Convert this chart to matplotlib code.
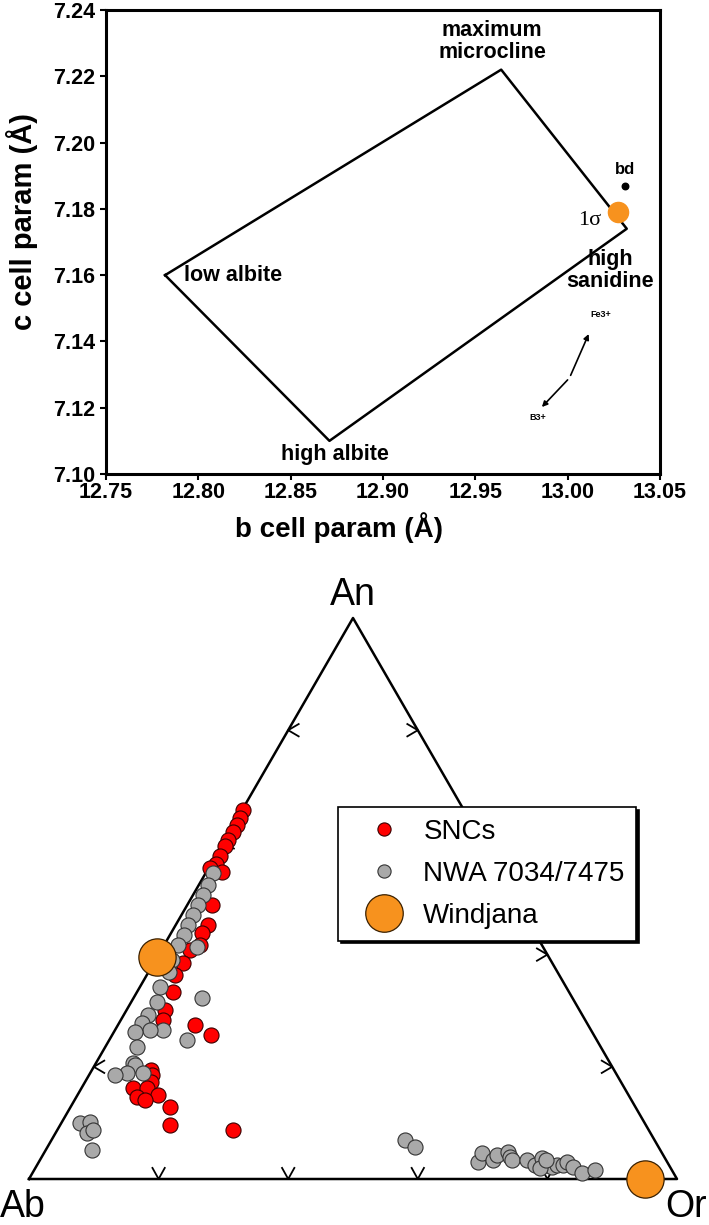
import numpy as np
import matplotlib
matplotlib.use("Agg")
import matplotlib.pyplot as plt
from matplotlib.lines import Line2D

plt.rcParams['font.family'] = ['Liberation Sans', 'DejaVu Sans']

# ---- top panel data: feldspar b-c cell parameter quadrilateral ----
quad_names = ["low albite", "high albite", "high sanidine", "maximum microcline"]
quad_b = [12.782, 12.871, 13.032, 12.964]
quad_c = [7.160, 7.110, 7.174, 7.222]

windjana_b = 13.027
windjana_c = 7.179
bd_b = 13.031
bd_c = 7.187

arrow_pivot = (13.001, 7.129)
arrow_fe = (13.012, 7.143)
arrow_b = (12.985, 7.1196)

x_ticks = [12.75, 12.80, 12.85, 12.90, 12.95, 13.00, 13.05]
y_ticks = [7.10, 7.12, 7.14, 7.16, 7.18, 7.20, 7.22, 7.24]

# ---- bottom panel data: An-Ab-Or ternary (percent) ----
snc_an = [65.8, 64.3, 63.1, 61.9, 60.4, 59.4, 57.6, 56.1, 55.4, 54.7, 48.8, 45.3,
          43.9, 41.7, 40.8, 38.5, 36.4, 33.3, 30.1, 28.3, 27.5, 25.7, 19.4, 18.5,
          17.3, 16.2, 16.2, 15.0, 14.6, 14.1, 12.8, 9.6, 8.7]
snc_or = [0.1, 0.4, 0.5, 0.6, 0.5, 0.5, 0.7, 0.8, 0.3, 2.4, 3.8, 4.9,
          4.8, 5.5, 4.4, 4.5, 4.3, 5.5, 5.9, 6.5, 11.9, 15.3, 9.1, 9.7,
          10.1, 7.9, 10.1, 12.4, 9.4, 10.9, 15.4, 17.0, 27.1]

nwa_an = [54.5, 52.4, 50.6, 48.8, 47.1, 45.3, 43.5, 41.7, 41.4, 39.0, 36.9, 34.2,
          32.3, 31.6, 29.2, 27.8, 26.6, 26.6, 26.2, 24.8, 23.5, 20.7, 20.3, 18.9,
          18.9, 18.5,
          10.0, 10.2, 8.2, 8.7, 5.2,
          7.0, 5.7,
          3.0, 4.6, 3.4, 4.3, 4.8, 3.9, 3.4, 3.4, 2.5, 3.7, 2.5, 2.1, 2.5, 2.5,
          3.0, 2.1, 1.1, 1.6, 2.0, 3.4]
nwa_or = [1.1, 1.4, 1.6, 1.7, 1.8, 1.9, 2.1, 2.1, 5.2, 2.6, 3.1, 3.1,
          10.6, 4.0, 3.8, 3.5, 7.4, 5.4, 3.3, 12.0, 4.9, 5.7, 6.2, 5.7,
          8.2, 4.0,
          2.9, 4.3, 4.9, 5.5, 7.1,
          54.5, 56.7,
          67.8, 67.6, 69.9, 70.1, 71.5, 72.3, 72.8, 75.2, 76.9, 77.3, 78.9, 79.7, 80.3, 81.2,
          81.5, 82.9, 84.8, 86.5, 77.9, 78.1]

wind_an = [39.6, 0.0]
wind_or = [0.0, 95.0]

tern_ticks = [20, 40, 60, 80]

H = np.sqrt(3) / 2


def tern_xy(an, orr):
    # An at apex, Ab bottom-left, Or bottom-right
    an = np.asarray(an, float) / 100.0
    orr = np.asarray(orr, float) / 100.0
    return orr + an / 2.0, an * H


W, HP = 709, 1225
fig = plt.figure(figsize=(W / 100, HP / 100), dpi=100)

# ================= top panel =================
ax = fig.add_axes([106 / W, 1 - 474 / HP, 554 / W, 464 / HP])
ax.plot(quad_b + quad_b[:1], quad_c + quad_c[:1], color='black', lw=1.8, zorder=2)
ax.scatter([bd_b], [bd_c], s=22, color='black', zorder=3)
ax.scatter([windjana_b], [windjana_c], s=210, color='#f7921e', zorder=4)

ax.annotate('', xy=arrow_fe, xytext=arrow_pivot,
            arrowprops=dict(arrowstyle='-|>', color='black', lw=1.2, mutation_scale=8))
ax.annotate('', xy=arrow_b, xytext=arrow_pivot,
            arrowprops=dict(arrowstyle='-|>', color='black', lw=1.2, mutation_scale=8))
ax.text(arrow_fe[0] + 0.006, arrow_fe[1] + 0.005, 'Fe3+', fontsize=6.5, fontweight='bold',
        ha='center', va='center')
ax.text(arrow_b[0] - 0.001, arrow_b[1] - 0.0025, 'B3+', fontsize=6.5, fontweight='bold',
        ha='center', va='center')

lab_kw = dict(fontsize=15.5, fontweight='bold', va='center')
ax.text(12.792, 7.160, 'low albite', ha='left', **lab_kw)
ax.text(12.874, 7.106, 'high albite', ha='center', **lab_kw)
ax.text(13.023, 7.1615, 'high\nsanidine', ha='center', linespacing=1.05, **lab_kw)
ax.text(12.959, 7.2305, 'maximum\nmicrocline', ha='center', linespacing=1.05, **lab_kw)
ax.text(13.031, 7.192, 'bd', ha='center', fontsize=12, fontweight='bold', va='center')
ax.text(13.012, 7.1765, '1\u03c3', ha='center', va='center', fontsize=16,
        family=['Liberation Serif', 'DejaVu Serif'])

ax.set_xlim(12.75, 13.05)
ax.set_ylim(7.10, 7.24)
ax.set_xticks(x_ticks)
ax.set_yticks(y_ticks)
ax.set_xticklabels([f'{v:.2f}' for v in x_ticks], fontsize=15.5, fontweight='bold')
ax.set_yticklabels([f'{v:.2f}' for v in y_ticks], fontsize=15.5, fontweight='bold')
ax.tick_params(direction='out', length=4, width=1.5, pad=4)
ax.tick_params(axis='x', pad=2)
for sp in ax.spines.values():
    sp.set_linewidth(2.2)
ax.set_xlabel('b cell param (\u00c5)', fontsize=20, fontweight='bold', va='center')
ax.set_ylabel('c cell param (\u00c5)', fontsize=21, fontweight='bold', va='center')
ax.xaxis.set_label_coords(0.42, -0.115)
ax.yaxis.set_label_coords(-0.152, 0.545)

# ================= bottom panel: ternary =================
tx = fig.add_axes([29 / W, 1 - 1179 / HP, 648 / W, 561 / HP])
tx.set_xlim(0, 1)
tx.set_ylim(0, H)
tx.axis('off')

tx.plot([0, 1, 0.5, 0], [0, 0, H, 0], color='black', lw=1.8, clip_on=False, zorder=1)

# chevron ticks on each side
d = 0.0095
for t in tern_ticks:
    f = t / 100.0
    # base
    tx.plot([f - d, f, f + d], [1.8 * d, 0, 1.8 * d], color='black', lw=1.3, zorder=1)
    # left side (Ab -> An)
    lx, ly = f / 2, f * H
    tx.plot([lx + 1.7 * d, lx, lx + 1.7 * d], [ly + d, ly, ly - d], color='black', lw=1.3, zorder=1)
    # right side (Or -> An)
    rx, ry = 1 - f / 2, f * H
    tx.plot([rx - 1.7 * d, rx, rx - 1.7 * d], [ry + d, ry, ry - d], color='black', lw=1.3, zorder=1)

sx, sy = tern_xy(snc_an, snc_or)
tx.scatter(sx, sy, s=118, color='#ff0000', edgecolors='#3a0000', linewidths=0.8,
           zorder=3, clip_on=False)
nx, ny = tern_xy(nwa_an, nwa_or)
tx.scatter(nx, ny, s=118, color='#a9a9a9', edgecolors='#333333', linewidths=0.8,
           zorder=4, clip_on=False)
wx, wy = tern_xy(wind_an, wind_or)
tx.scatter(wx, wy, s=720, color='#f7921e', edgecolors='#3a2000', linewidths=0.9,
           zorder=5, clip_on=False)

tx.text(0.5, 574 / 648, 'An', fontsize=27, ha='center', va='baseline')
tx.text(-29 / 648, -38 / 648, 'Ab', fontsize=27, ha='left', va='baseline')
tx.text(1 + 30 / 648, -38 / 648, 'Or', fontsize=27, ha='right', va='baseline')

handles = [
    Line2D([], [], ls='', marker='o', ms=9.5, mfc='#ff0000', mec='#3a0000', mew=0.8),
    Line2D([], [], ls='', marker='o', ms=9.5, mfc='#a9a9a9', mec='#333333', mew=0.8),
    Line2D([], [], ls='', marker='o', ms=27, mfc='#f7921e', mec='#3a2000', mew=0.9),
]
leg = fig.legend(handles, ['SNCs', 'NWA 7034/7475', 'Windjana'],
                 loc='upper left', bbox_to_anchor=(338 / W, 1 - 807 / HP),
                 fontsize=20, frameon=True, fancybox=False, borderaxespad=0,
                 borderpad=0.42, labelspacing=0.58, handletextpad=0.2,
                 handlelength=2.45,
                 shadow={'facecolor': 'black', 'edgecolor': 'black', 'alpha': 1.0})
leg.get_frame().set_edgecolor('black')
leg.get_frame().set_linewidth(1.2)
leg.set_zorder(10)

fig.savefig('out.png', dpi=100)
